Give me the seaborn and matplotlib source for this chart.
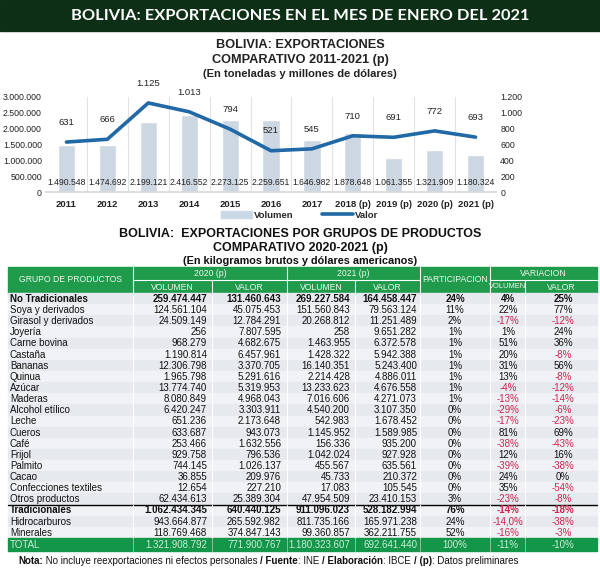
import numpy as np
import matplotlib
matplotlib.use("Agg")
import matplotlib.pyplot as plt
from matplotlib.patches import Rectangle
from matplotlib.lines import Line2D
import seaborn as sns

# ---- data: chart 2011-2021 ----
years = ["2011", "2012", "2013", "2014", "2015", "2016", "2017",
         "2018 (p)", "2019 (p)", "2020 (p)", "2021 (p)"]
volumen = [1490548, 1474692, 2199121, 2416552, 2273125, 2259651,
           1646982, 1878648, 1061355, 1321909, 1180324]
valor = [631, 666, 1125, 1013, 794, 521, 545, 710, 691, 772, 693]

# ---- data: table 2020-2021 ----
productos = ["No Tradicionales", "Soya y derivados", "Girasol y derivados", "Joyería",
             "Carne bovina", "Castaña", "Bananas", "Quinua", "Azúcar", "Maderas",
             "Alcohol etílico", "Leche", "Cueros", "Café", "Frijol", "Palmito", "Cacao",
             "Confecciones textiles", "Otros productos", "Tradicionales", "Hidrocarburos",
             "Minerales", "TOTAL"]
vol2020 = [259474447, 124561104, 24509149, 256, 968279, 1190814, 12306798, 1965798,
           13774740, 8080849, 6420247, 651236, 633687, 253466, 929758, 744145, 36855,
           12654, 62434613, 1062434345, 943664877, 118769468, 1321908792]
val2020 = [131460643, 45075453, 12784291, 7807595, 4682675, 6457961, 3370705, 5291616,
           5319953, 4968043, 3303911, 2173648, 943073, 1632556, 796536, 1026137, 209976,
           227210, 25389304, 640440125, 265592982, 374847143, 771900767]
vol2021 = [269227584, 151560843, 20268812, 258, 1463955, 1428322, 16140351, 2214428,
           13233623, 7016606, 4540200, 542983, 1145952, 156336, 1042024, 455567, 45733,
           17083, 47954509, 911096023, 811735166, 99360857, 1180323607]
val2021 = [164458447, 79563124, 11251489, 9651282, 6372578, 5942388, 5243400, 4886011,
           4676558, 4271073, 3107350, 1678452, 1589985, 935200, 927928, 635561, 210372,
           105545, 23410153, 528182994, 165971238, 362211755, 692641440]
participacion = ["24%", "11%", "2%", "1%", "1%", "1%", "1%", "1%", "1%", "1%", "0%", "0%",
                 "0%", "0%", "0%", "0%", "0%", "0%", "3%", "76%", "24%", "52%", "100%"]
var_vol = ["4%", "22%", "-17%", "1%", "51%", "20%", "31%", "13%", "-4%", "-13%", "-29%",
           "-17%", "81%", "-38%", "12%", "-39%", "24%", "35%", "-23%", "-14%", "-14,0%",
           "-16%", "-11%"]
var_val = ["25%", "77%", "-12%", "24%", "36%", "-8%", "56%", "-8%", "-12%", "-14%", "-6%",
           "-23%", "69%", "-43%", "16%", "-38%", "0%", "-54%", "-8%", "-18%", "-38%",
           "-3%", "-10%"]
bold_rows = ["No Tradicionales", "Tradicionales"]


def fmt(n):
    return f"{n:,}".replace(",", ".")


sns.set_theme(style="white")
plt.rcParams["font.family"] = ["Liberation Sans", "DejaVu Sans"]

fig = plt.figure(figsize=(6, 5.68), dpi=100)

# full-figure canvas in pixel coordinates for banner, titles and table
bg = fig.add_axes([0, 0, 1, 1])
bg.set_xlim(0, 600)
bg.set_ylim(568, 0)
bg.axis("off")

bg.add_patch(Rectangle((0, 0), 600, 31, color="#0d2f15"))
bg.text(300, 16, "BOLIVIA: EXPORTACIONES EN EL MES DE ENERO DEL 2021", color="white",
        fontsize=11.8, fontweight="bold", family=["Lato", "DejaVu Sans"],
        ha="center", va="center")

bg.text(300, 45, "BOLIVIA: EXPORTACIONES", fontsize=9.2, fontweight="bold",
        ha="center", va="center", color="#222222")
bg.text(300, 60, "COMPARATIVO 2011-2021 (p)", fontsize=9.2, fontweight="bold",
        ha="center", va="center", color="#222222")
bg.text(300, 74, "(En toneladas y millones de dólares)", fontsize=8, fontweight="bold",
        ha="center", va="center", color="#222222")

# ---- combo chart ----
ax = fig.add_axes([46 / 600, 1 - 192 / 568, 450 / 600, 95 / 568])
bar_color = "#c9d7e6"
line_color = "#2169a6"
sns.barplot(x=years, y=volumen, color=bar_color, width=0.42, ax=ax, zorder=2)
ax.set_ylim(0, 3000000)
ax.set_yticks(np.arange(0, 3000001, 500000))
ax.set_yticklabels([fmt(v) for v in range(0, 3000001, 500000)])
for i, v in enumerate(volumen):
    ax.text(i, 290000, fmt(v), ha="center", va="center", fontsize=6.2, color="#222222")
for i in range(len(years) - 1):
    ax.axvline(i + 0.5, color="#e2e2e2", lw=0.8, zorder=1)
ax.set_xlabel("")
ax.set_ylabel("")

ax2 = ax.twinx()
sns.lineplot(x=np.arange(len(years)), y=valor, color=line_color, linewidth=2.6, ax=ax2)
ax2.set_ylim(0, 1200)
ax2.set_yticks(np.arange(0, 1201, 200))
ax2.set_yticklabels([fmt(v) for v in range(0, 1201, 200)])
for i, v in enumerate(valor):
    ax2.annotate(fmt(v), (i, v), xytext=(0, 11), textcoords="offset points",
                 ha="center", va="bottom", fontsize=6.8, color="#222222")
ax.set_xlim(-0.5, len(years) - 0.5)

for a in (ax, ax2):
    for s in a.spines.values():
        s.set_visible(False)
    a.tick_params(length=0, labelsize=6.3, colors="#222222", pad=3)
ax.spines["bottom"].set_visible(True)
ax.spines["bottom"].set_color("#d9d9d9")
for lbl in ax.get_xticklabels():
    lbl.set_fontweight("bold")
    lbl.set_fontsize(6.8)
ax.tick_params(axis="x", pad=6)

handles = [Rectangle((0, 0), 1, 1, color=bar_color),
           Line2D([0], [0], color=line_color, lw=2.6)]
fig.legend(handles, ["Volumen", "Valor"], loc="center", bbox_to_anchor=(0.5, 1 - 215 / 568),
           ncol=2, frameon=False, prop={"size": 6.8, "weight": "bold"},
           handlelength=3.2, columnspacing=3, handletextpad=0.3)

# ---- table ----
bg.text(300, 234, "BOLIVIA:  EXPORTACIONES POR GRUPOS DE PRODUCTOS", fontsize=9,
        fontweight="bold", ha="center", va="center", color="#111111")
bg.text(300, 248, "COMPARATIVO 2020-2021 (p)", fontsize=9, fontweight="bold",
        ha="center", va="center", color="#111111")
bg.text(300, 261, "(En kilogramos brutos y dólares americanos)", fontsize=7.8,
        fontweight="bold", ha="center", va="center", color="#111111")

green = "#1f9b4b"
hdr_txt = "#eef8f0"
edges = [8, 133, 212, 287, 355, 420, 490, 525, 597]
top, mid, hb = 267, 280, 293
bg.add_patch(Rectangle((edges[0], top), edges[-1] - edges[0], hb - top, color=green))
# white separators inside header
for x in [133, 287, 420, 490]:
    bg.plot([x, x], [top, hb], color="white", lw=0.8)
for x in [212, 355, 525]:
    bg.plot([x, x], [mid, hb], color="white", lw=0.8)
for x0, x1 in [(133, 420), (490, 597)]:
    bg.plot([x0, x1], [mid, mid], color="white", lw=0.8)
hfs = 6.2
bg.text((8 + 133) / 2, (top + hb) / 2, "GRUPO DE PRODUCTOS", color=hdr_txt, fontsize=hfs,
        ha="center", va="center")
bg.text((133 + 287) / 2, (top + mid) / 2, "2020 (p)", color=hdr_txt, fontsize=hfs,
        ha="center", va="center")
bg.text((287 + 420) / 2, (top + mid) / 2, "2021 (p)", color=hdr_txt, fontsize=hfs,
        ha="center", va="center")
bg.text((420 + 490) / 2, (top + hb) / 2, "PARTICIPACION", color=hdr_txt, fontsize=hfs,
        ha="center", va="center")
bg.text((490 + 597) / 2, (top + mid) / 2, "VARIACION", color=hdr_txt, fontsize=hfs,
        ha="center", va="center")
for (x0, x1), lab in zip([(133, 212), (212, 287), (287, 355), (355, 420), (490, 525), (525, 597)],
                         ["VOLUMEN", "VALOR", "VOLUMEN", "VALOR", "VOLUMEN", "VALOR"]):
    bg.text((x0 + x1) / 2, (mid + hb) / 2 + 0.5, lab, color=hdr_txt,
            fontsize=5.4 if x1 - x0 < 40 else hfs, ha="center", va="center")

row_h = (538 - hb) / (len(productos) - 1)
red = "#d0234f"
right_x = [207, 281, 350, 417]
centers = [455, 508, 563]
for r, name in enumerate(productos):
    y0 = hb + r * row_h
    is_total = name == "TOTAL"
    h = 12.5 if is_total else row_h
    if is_total:
        bg.add_patch(Rectangle((edges[0], y0), edges[-1] - edges[0], h, color="#13954a"))
        for x in edges[1:-1]:
            bg.plot([x, x], [y0, y0 + h], color="#8fd0a5", lw=0.6)
    else:
        bg.add_patch(Rectangle((edges[0], y0), edges[-1] - edges[0], h,
                               color="#e6e9ed" if r % 2 == 0 else "#f1f2f5"))
        for x in edges[1:-1]:
            bg.plot([x, x], [y0, y0 + h], color="white", lw=0.8)
    yc = y0 + h / 2 + 0.3
    w = "bold" if name in bold_rows else "normal"
    base = "#cdeed7" if is_total else "#111111"
    bg.text(10, yc, name, fontsize=7, fontweight=w, color=base, ha="left", va="center")
    for x, v in zip(right_x, [vol2020[r], val2020[r], vol2021[r], val2021[r]]):
        bg.text(x, yc, fmt(v), fontsize=7, fontweight=w, color=base, ha="right", va="center")
    for x, s in zip(centers, [participacion[r], var_vol[r], var_val[r]]):
        c = base
        if s.startswith("-") and not is_total:
            c = red
        bg.text(x, yc, s, fontsize=7, fontweight=w, color=c, ha="center", va="center")
    if name == "Otros productos":
        bg.plot([edges[0], edges[-1]], [y0 + h, y0 + h], color="black", lw=1.0)

# ---- note with mixed weights ----
pieces = [("Nota:", "bold"), (" No incluye reexportaciones ni efectos personales ", "normal"),
          ("/ Fuente", "bold"), (": INE ", "normal"), ("/ Elaboración", "bold"),
          (": IBCE ", "normal"), ("/ (p)", "bold"), (": Datos preliminares", "normal")]
renderer = fig.canvas.get_renderer()
x = 18
for txt, w in pieces:
    t = bg.text(x, 561, txt, fontsize=7, fontweight=w, color="#111111", ha="left",
                va="center")
    x += t.get_window_extent(renderer).width

fig.savefig("out.png", dpi=100)
